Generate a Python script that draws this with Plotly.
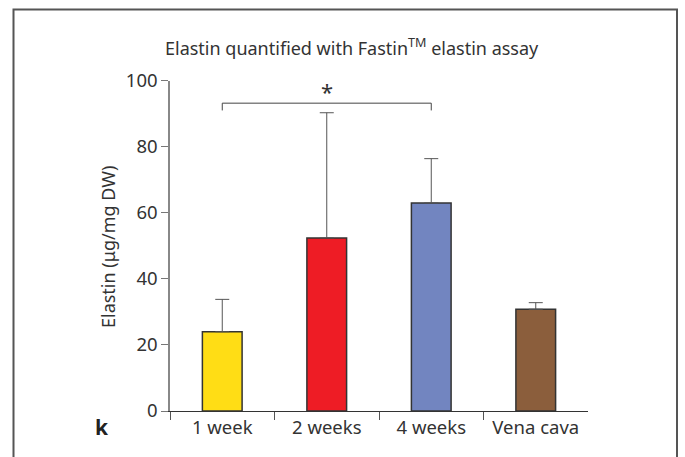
import plotly.graph_objects as go

categories = ["1 week", "2 weeks", "4 weeks", "Vena cava"]
means = [24.0, 52.4, 63.0, 30.8]
errors = [9.8, 37.9, 13.4, 2.0]
colors = ["#FFDD15", "#EE1C25", "#7285C0", "#8B5E3C"]
y_ticks = [0, 20, 40, 60, 80, 100]
bracket_x = ["1 week", "1 week", "4 weeks", "4 weeks"]
bracket_y = [91.0, 93.2, 93.2, 91.0]

W, H = 685, 457
FONT = "Noto Sans"
TXT = "#333333"

fig = go.Figure()
fig.add_trace(go.Bar(
    x=categories, y=means,
    marker=dict(color=colors, line=dict(color="#333333", width=1.5)),
    width=0.38,
    error_y=dict(type="data", symmetric=False, array=errors,
                 arrayminus=[0] * len(errors),
                 color="#555555", thickness=1, width=7),
    showlegend=False, hoverinfo="skip",
))
fig.add_trace(go.Scatter(
    x=bracket_x, y=bracket_y, mode="lines",
    line=dict(color="#444444", width=1), showlegend=False, hoverinfo="skip",
))

y0px, y100px = 411, 80.7
fig.update_layout(
    width=W, height=H,
    margin=dict(l=0, r=0, t=0, b=0, autoexpand=False),
    paper_bgcolor="white", plot_bgcolor="white",
    font=dict(family=FONT, color=TXT, size=18),
    xaxis=dict(
        domain=[170 / W, 588 / W], automargin=False,
        type="category", categoryorder="array", categoryarray=categories,
        range=[-0.5, 3.5],
        tickson="boundaries", ticks="outside", ticklen=8,
        tickcolor="#555555", tickwidth=1,
        showline=True, linecolor="#333333", linewidth=1.2,
        showgrid=False, zeroline=False,
        tickfont=dict(size=18.5, family=FONT, color=TXT),
    ),
    yaxis=dict(
        domain=[1 - y0px / H, 1 - y100px / H], automargin=False,
        range=[0, 100], tickvals=y_ticks,
        ticks="outside", ticklen=7, tickcolor="#777777", tickwidth=1,
        showline=True, linecolor="#888888", linewidth=1.5,
        showgrid=False, zeroline=False,
        tickfont=dict(size=18.5, family=FONT, color=TXT),
    ),
    shapes=[dict(type="rect", xref="paper", yref="paper",
                 x0=13.5 / W, x1=677 / W, y0=-0.1, y1=1 - 9.5 / H,
                 line=dict(color="#555555", width=2), layer="below")],
    annotations=[
        dict(text="Elastin quantified with Fastin<sup>TM</sup> elastin assay",
             xref="paper", yref="paper", x=352 / W, y=1 - 47 / H,
             showarrow=False, font=dict(size=18, family=FONT, color=TXT),
             xanchor="center", yanchor="middle"),
        dict(text="Elastin (μg/mg DW)", xref="paper", yref="paper",
             x=108 / W, y=1 - 247 / H, textangle=-90, showarrow=False,
             font=dict(size=18, family=FONT, color=TXT),
             xanchor="center", yanchor="middle"),
        dict(text="*", xref="x", yref="y", x=1, y=97, showarrow=False,
             font=dict(size=22, family=FONT, color=TXT),
             xanchor="center", yanchor="middle"),
        dict(text="<b>k</b>", xref="paper", yref="paper", x=102 / W, y=1 - 427 / H,
             showarrow=False, font=dict(size=21, family=FONT, color="#222222"),
             xanchor="center", yanchor="middle"),
    ],
)

fig.write_html("out.html")
